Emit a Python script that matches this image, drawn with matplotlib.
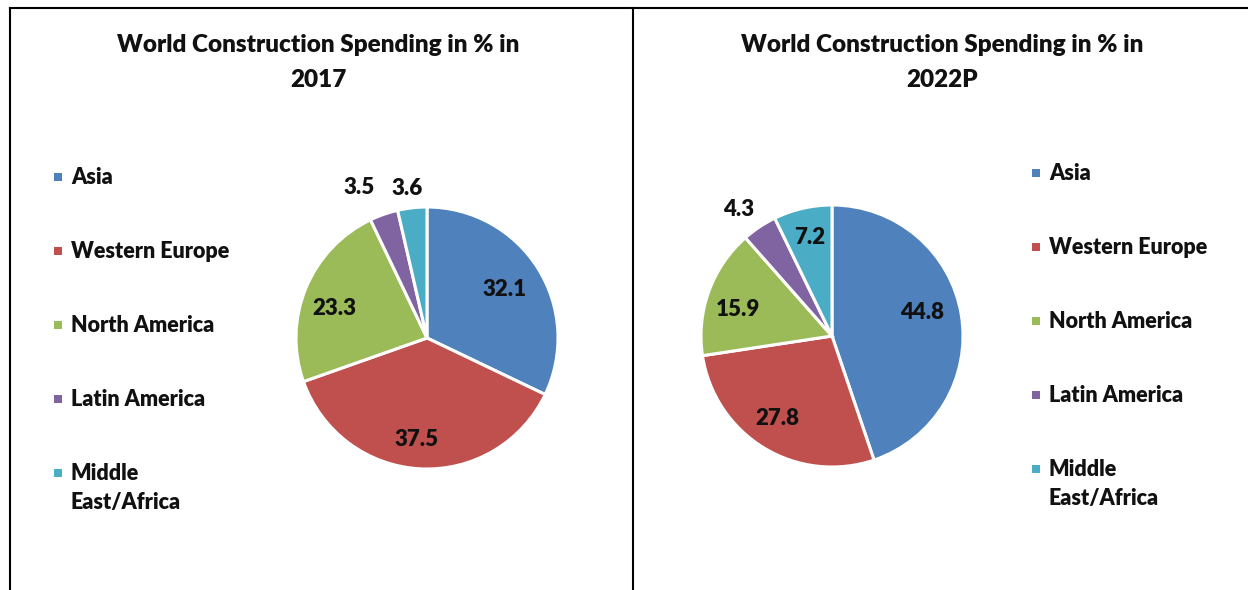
import matplotlib
matplotlib.use("Agg")
import matplotlib.pyplot as plt
from matplotlib.patches import Rectangle
from matplotlib.lines import Line2D
import numpy as np

plt.rcParams['font.family'] = ['Lato', 'DejaVu Sans']

REGIONS = ["Asia", "Western Europe", "North America", "Latin America", "Middle\nEast/Africa"]
COLORS = ["#4F81BD", "#C0504D", "#9BBB59", "#8064A2", "#4BACC6"]
SPEND_2017 = [32.1, 37.5, 23.3, 3.5, 3.6]
SPEND_2022 = [44.8, 27.8, 15.9, 4.3, 7.2]
TITLES = ["World Construction Spending in % in\n2017",
          "World Construction Spending in % in\n2022P"]

W, H = 1248, 590
WEIGHT = "heavy"
fig = plt.figure(figsize=(W / 100, H / 100), dpi=100)

# panel borders (pixel coords)
for x0, y0, x1, y1 in [(10, 8, 10, H), (633, 8, 633, H), (10, 8, W, 8)]:
    fig.add_artist(Line2D([x0 / W, x1 / W], [1 - y0 / H, 1 - y1 / H],
                          color="black", lw=1.5))


def draw_panel(values, title, title_x, center, r, label_dist, label_rot, legend_x, legend_y0):
    cx, cy = center
    ax = fig.add_axes([(cx - r) / W, 1 - (cy + r) / H, 2 * r / W, 2 * r / H])
    wedges, _ = ax.pie(values, colors=COLORS, startangle=90, counterclock=False,
                       radius=1, wedgeprops=dict(edgecolor="white", linewidth=2.2))
    ax.set_xlim(-1.0, 1.0)
    ax.set_ylim(-1.0, 1.0)
    ax.set_aspect("equal")
    ax.axis("off")
    # data labels near wedge mid-angles ("best fit" nudges as in Excel)
    for w, v, d, rot in zip(wedges, values, label_dist, label_rot):
        ang = np.deg2rad((w.theta1 + w.theta2) / 2 + rot)
        ax.text(d * np.cos(ang), d * np.sin(ang), f"{v:.1f}", ha="center", va="center",
                fontsize=16, fontweight=WEIGHT, color="#111111", clip_on=False)

    fig.text(title_x / W, 1 - 62.5 / H, title, ha="center", va="center",
             fontsize=17.5, fontweight=WEIGHT, linespacing=1.7, color="#111111")

    for i, (name, c) in enumerate(zip(REGIONS, COLORS)):
        y = legend_y0 + i * 74
        fig.add_artist(Rectangle(((legend_x - 4) / W, 1 - (y + 4) / H), 8 / W, 8 / H,
                                 facecolor=c, edgecolor="none"))
        fig.text((legend_x + 13) / W, 1 - (y - 10) / H, name, ha="left", va="top",
                 fontsize=15.5, fontweight=WEIGHT, color="#111111", linespacing=1.5)


draw_panel(SPEND_2017, TITLES[0], 318, (427, 338), 131,
           [0.70, 0.775, 0.74, 1.257, 1.155], [0, -2.6, 4.5, 5.1, 1.1], 58, 177)
draw_panel(SPEND_2022, TITLES[1], 942, (832, 336), 131,
           [0.71, 0.754, 0.746, 1.20, 0.77], [5, -2.5, 4.3, 3, -0.4], 1036, 173)

fig.savefig("out.png", dpi=100, facecolor="white")
